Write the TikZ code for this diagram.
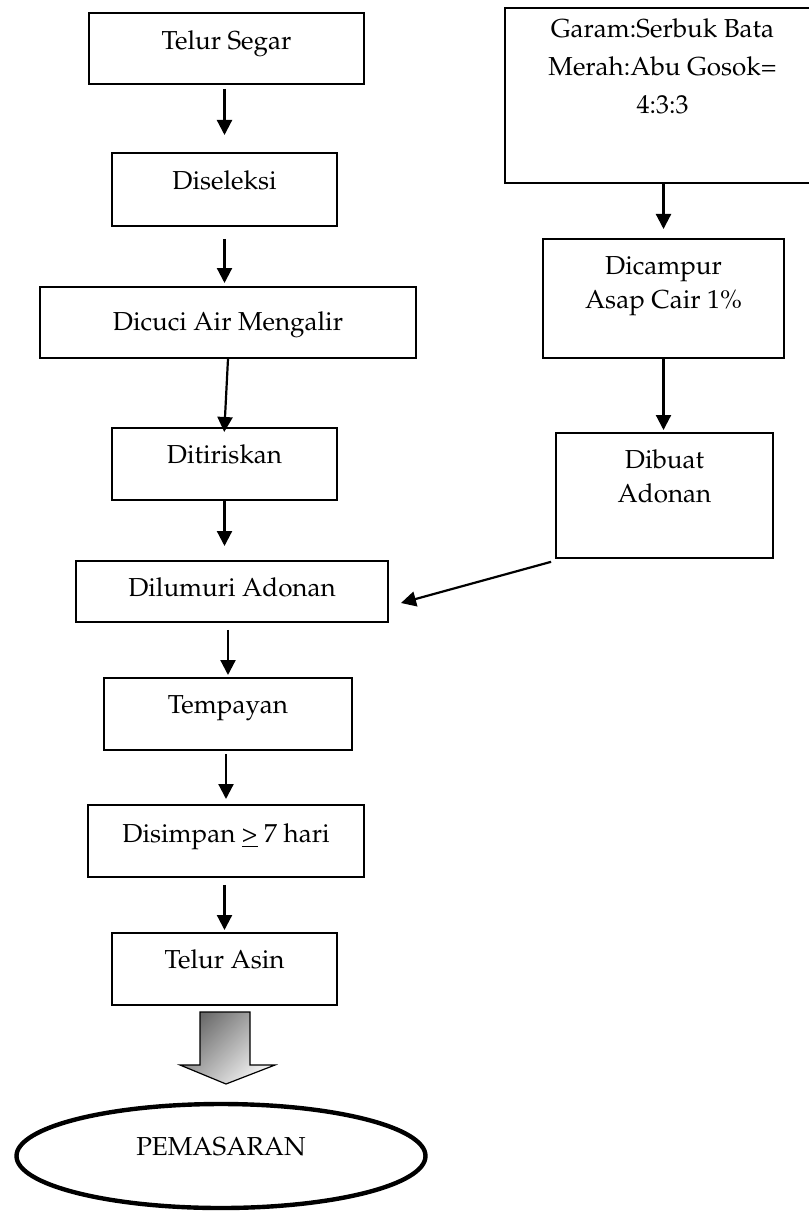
\documentclass[tikz,border=0pt]{standalone}
\usepackage[T1]{fontenc}
\usepackage{mathpazo}
\usepackage{tikz}
\usetikzlibrary{shapes,arrows.meta}
\newcommand{\baris}[1]{\begin{tabular}[t]{c}#1\end{tabular}}

\begin{document}
\begin{tikzpicture}[x=0.5pt,y=-0.5pt,
		kotak/.style={draw,line width=0.9pt,anchor=north,inner sep=0pt,font=\fontsize{13}{17}\selectfont},
		panah/.style={line width=1.1pt,-{Triangle[length=7.5pt,width=7.5pt]}}]
	\definecolor{abutua}{HTML}{6A6A6A}
	\definecolor{abumuda}{HTML}{F4F4F4}
	\useasboundingbox (0,0) rectangle (808,1214);
	
	% kolom kiri
	\node[kotak,minimum width=137.5pt,text height=18.5pt,text depth=17pt] (telur) at (226.5,12) {Telur Segar};
	\node[kotak,minimum width=112.5pt,text height=18.5pt,text depth=18pt] (diseleksi) at (224.5,152) {Diseleksi};
	\node[kotak,minimum width=188pt,text height=22pt,text depth=13.5pt] (dicuci) at (228,286) {Dicuci Air Mengalir};
	\node[kotak,minimum width=112.5pt,text height=18pt,text depth=18pt] (ditiriskan) at (224.5,427) {Ditiriskan};
	\node[kotak,minimum width=156pt,text height=18pt,text depth=12.5pt] (dilumuri) at (232,560) {Dilumuri Adonan};
	\node[kotak,minimum width=124pt,text height=18pt,text depth=18pt] (tempayan) at (228,677) {Tempayan};
	\node[kotak,minimum width=138pt,text height=19pt,text depth=17pt] (disimpan) at (226,804) {Disimpan \underline{>} 7 hari};
	\node[kotak,minimum width=112.5pt,text height=18pt,text depth=18pt] (telurasin) at (224.5,932) {Telur Asin};
	
	% kolom kanan
	\node[kotak,minimum width=157.5pt,text height=15pt,text depth=72.5pt] (garam) at (662.5,7) {\baris{Garam:Serbuk Bata\\[2pt] Merah:Abu Gosok=\\[2pt] 4:3:3}};
	\node[kotak,minimum width=120.5pt,text height=18pt,text depth=41.5pt] (dicampur) at (663.5,238) {\baris{Dicampur\\ Asap Cair 1\%}};
	\node[kotak,minimum width=108.5pt,text height=18pt,text depth=44.5pt] (dibuat) at (664.5,432) {\baris{Dibuat\\ Adonan}};
	
	\node[ellipse,draw,line width=2.2pt,minimum width=204.5pt,minimum height=52pt,inner sep=0pt,text height=9pt,text depth=10pt,font=\fontsize{13}{17}\selectfont] (pasar) at (221,1156) {PEMASARAN};
	
	% panah
	\draw[panah,shorten <=2pt,shorten >=8.5pt] (diseleksi.north |- telur.south) -- (diseleksi.north);
	\draw[panah,shorten <=6pt,shorten >=1.5pt] (diseleksi.south) -- (diseleksi.south |- dicuci.north);
	\draw[panah,shorten >=-2.5pt] (dicuci.south) -- (ditiriskan.north);
	\draw[panah,shorten >=7pt] (ditiriskan.south) -- (ditiriskan.south |- dilumuri.north);
	\draw[panah,shorten <=3.5pt,shorten >=1pt] (tempayan.north |- dilumuri.south) -- (tempayan.north);
	\draw[panah,shorten <=1.5pt,shorten >=2.5pt] (disimpan.north |- tempayan.south) -- (disimpan.north);
	\draw[panah,shorten <=3.5pt,shorten >=1pt] (telurasin.north |- disimpan.south) -- (telurasin.north);
	\draw[panah,shorten >=4.5pt] (dicampur.north |- garam.south) -- (dicampur.north);
	\draw[panah,shorten >=1pt] (dicampur.south) -- (dicampur.south |- dibuat.north);
	\coordinate (ujung) at (401,603);
	\draw[panah] ([xshift=-2pt,yshift=-1.5pt]dibuat.south west) -- (ujung);
	
	% panah besar
	\draw[line width=0.6pt,top color=abutua,bottom color=abumuda,shading angle=45] (200,1012) -- (250,1012) -- (250,1065) -- (275,1065) -- (226,1084) -- (180,1065) -- (200,1065) -- cycle;
\end{tikzpicture}
\end{document}
